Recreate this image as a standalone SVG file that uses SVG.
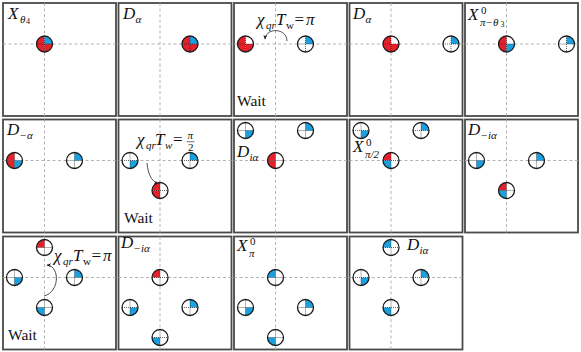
<svg xmlns="http://www.w3.org/2000/svg" xmlns:xlink="http://www.w3.org/1999/xlink" width="581" height="352" viewBox="0 0 581 352">
<style>
.panel{fill:#fff;stroke:#4a4a4a;stroke-width:1.8}
.cross{stroke:#aaaaaa;stroke-width:0.9;stroke-dasharray:3,2.5;fill:none}
.bg{fill:#fff}
.R{fill:#e4202a}
.B{fill:#1aa0de}
.dot{stroke:#222;stroke-width:0.7;stroke-dasharray:1,1;fill:none}
.rim{fill:none;stroke:#1a1a1a;stroke-width:1.3}
.m{font-family:"Liberation Serif","DejaVu Serif",serif;font-style:italic;font-size:17px;fill:#111}
.s{font-size:11px}
.t{font-size:8px;font-style:normal}
.u{font-style:normal}
.w{font-family:"Liberation Serif","DejaVu Serif",serif;font-size:15.5px;fill:#111}
.arc{fill:none;stroke:#222;stroke-width:0.8}
</style>
<defs>
<path id="tl" d="M0,0H-8A8,8 0 0 1 0,-8Z"/>
<path id="tr" d="M0,0V-8A8,8 0 0 1 8,0Z"/>
<path id="br" d="M0,0H8A8,8 0 0 1 0,8Z"/>
<path id="bl" d="M0,0V8A8,8 0 0 1 -8,0Z"/>
<circle id="bg" r="8" class="bg"/>
<g id="ring"><path class="dot" d="M-8,0H8M0,-8V8"/><circle r="8" class="rim"/></g>
<marker id="ah" viewBox="0 0 10 10" refX="8" refY="5" markerWidth="5" markerHeight="5" orient="auto-start-reverse" markerUnits="userSpaceOnUse">
<path d="M0,1 L9,5 L0,9 L2.5,5Z" fill="#222"/>
</marker>
</defs>

<!-- panels -->
<g id="panel-1-1"><rect class="panel" x="3" y="3" width="113" height="113"/><path class="cross" d="M3,44H116M44.5,3V116"/></g>
<g id="panel-1-2"><rect class="panel" x="118.5" y="3" width="113" height="113"/><path class="cross" d="M118.5,44H231.5M160,3V116"/></g>
<g id="panel-1-3"><rect class="panel" x="234" y="3" width="113" height="113"/><path class="cross" d="M234,44H347M275.5,3V116"/></g>
<g id="panel-1-4"><rect class="panel" x="349.5" y="3" width="113" height="113"/><path class="cross" d="M349.5,44H462.5M391,3V116"/></g>
<g id="panel-1-5"><rect class="panel" x="465" y="3" width="113" height="113"/><path class="cross" d="M465,44H578M506.5,3V116"/></g>

<g id="panel-2-1"><rect class="panel" x="3" y="119.5" width="113" height="113"/><path class="cross" d="M3,160.5H116M44.5,119.5V232.5"/></g>
<g id="panel-2-2"><rect class="panel" x="118.5" y="119.5" width="113" height="113"/><path class="cross" d="M118.5,160.5H231.5M160,119.5V232.5"/></g>
<g id="panel-2-3"><rect class="panel" x="234" y="119.5" width="113" height="113"/><path class="cross" d="M234,160.5H347M275.5,119.5V232.5"/></g>
<g id="panel-2-4"><rect class="panel" x="349.5" y="119.5" width="113" height="113"/><path class="cross" d="M349.5,160.5H462.5M391,119.5V232.5"/></g>
<g id="panel-2-5"><rect class="panel" x="465" y="119.5" width="113" height="113"/><path class="cross" d="M465,160.5H578M506.5,119.5V232.5"/></g>

<g id="panel-3-1"><rect class="panel" x="3" y="236.5" width="113" height="113"/><path class="cross" d="M3,277.5H116M44.5,236.5V349.5"/></g>
<g id="panel-3-2"><rect class="panel" x="118.5" y="236.5" width="113" height="113"/><path class="cross" d="M118.5,277.5H231.5M160,236.5V349.5"/></g>
<g id="panel-3-3"><rect class="panel" x="234" y="236.5" width="113" height="113"/><path class="cross" d="M234,277.5H347M275.5,236.5V349.5"/></g>
<g id="panel-3-4"><rect class="panel" x="349.5" y="236.5" width="113" height="113"/><path class="cross" d="M349.5,277.5H462.5M391,236.5V349.5"/></g>

<!-- connectors -->
<g id="connectors">
<path class="arc" marker-end="url(#ah)" d="M287,41 C287,28 266,27 265,39"/>
<path class="arc" marker-end="url(#ah)" d="M147,163 C148,175 152,181 158,184"/>
<path class="arc" marker-end="url(#ah)" d="M44,296 C60,292 60,266 47,265"/>
</g>

<!-- qubits -->
<g id="q-1-1-a" transform="translate(44.5,44)"><use href="#bg"/><use href="#tl" class="R"/><use href="#tr" class="B"/><use href="#bl" class="R"/><use href="#br" class="R"/><use href="#ring"/></g>
<g id="q-1-2-a" transform="translate(190,44)"><use href="#bg"/><use href="#tl" class="R"/><use href="#tr" class="B"/><use href="#bl" class="R"/><use href="#br" class="R"/><use href="#ring"/></g>
<g id="q-1-3-a" transform="translate(245.5,44)"><use href="#bg"/><use href="#tl" class="R"/><use href="#bl" class="R"/><use href="#br" class="R"/><use href="#ring"/></g>
<g id="q-1-3-b" transform="translate(305.5,44)"><use href="#bg"/><use href="#tr" class="B"/><use href="#ring"/></g>
<g id="q-1-4-a" transform="translate(391,44)"><use href="#bg"/><use href="#tl" class="R"/><use href="#bl" class="R"/><use href="#br" class="R"/><use href="#ring"/></g>
<g id="q-1-4-b" transform="translate(451,44)"><use href="#bg"/><use href="#tr" class="B"/><use href="#ring"/></g>
<g id="q-1-5-a" transform="translate(506.5,44)"><use href="#bg"/><use href="#tl" class="R"/><use href="#bl" class="R"/><use href="#br" class="B"/><use href="#ring"/></g>
<g id="q-1-5-b" transform="translate(566.5,44)"><use href="#bg"/><use href="#tr" class="B"/><use href="#ring"/></g>

<g id="q-2-1-a" transform="translate(14.5,160.5)"><use href="#bg"/><use href="#tl" class="R"/><use href="#bl" class="R"/><use href="#br" class="B"/><use href="#ring"/></g>
<g id="q-2-1-b" transform="translate(74.5,160.5)"><use href="#bg"/><use href="#tr" class="B"/><use href="#ring"/></g>
<g id="q-2-2-a" transform="translate(130,160.5)"><use href="#bg"/><use href="#br" class="B"/><use href="#ring"/></g>
<g id="q-2-2-b" transform="translate(190,160.5)"><use href="#bg"/><use href="#tr" class="B"/><use href="#ring"/></g>
<g id="q-2-2-c" transform="translate(160,190.5)"><use href="#bg"/><use href="#tl" class="R"/><use href="#bl" class="R"/><use href="#ring"/></g>
<g id="q-2-3-a" transform="translate(245.5,130.5)"><use href="#bg"/><use href="#br" class="B"/><use href="#ring"/></g>
<g id="q-2-3-b" transform="translate(305.5,130.5)"><use href="#bg"/><use href="#tr" class="B"/><use href="#ring"/></g>
<g id="q-2-3-c" transform="translate(275.5,160.5)"><use href="#bg"/><use href="#tl" class="R"/><use href="#bl" class="R"/><use href="#ring"/></g>
<g id="q-2-4-a" transform="translate(361,130.5)"><use href="#bg"/><use href="#br" class="B"/><use href="#ring"/></g>
<g id="q-2-4-b" transform="translate(421,130.5)"><use href="#bg"/><use href="#tr" class="B"/><use href="#ring"/></g>
<g id="q-2-4-c" transform="translate(391,160.5)"><use href="#bg"/><use href="#tl" class="R"/><use href="#bl" class="B"/><use href="#ring"/></g>
<g id="q-2-5-a" transform="translate(476.5,160.5)"><use href="#bg"/><use href="#br" class="B"/><use href="#ring"/></g>
<g id="q-2-5-b" transform="translate(536.5,160.5)"><use href="#bg"/><use href="#tr" class="B"/><use href="#ring"/></g>
<g id="q-2-5-c" transform="translate(506.5,190.5)"><use href="#bg"/><use href="#tl" class="R"/><use href="#bl" class="B"/><use href="#ring"/></g>

<g id="q-3-1-a" transform="translate(44.5,247.5)"><use href="#bg"/><use href="#tl" class="R"/><use href="#ring"/></g>
<g id="q-3-1-b" transform="translate(14.5,277.5)"><use href="#bg"/><use href="#br" class="B"/><use href="#ring"/></g>
<g id="q-3-1-c" transform="translate(74.5,277.5)"><use href="#bg"/><use href="#tr" class="B"/><use href="#ring"/></g>
<g id="q-3-1-d" transform="translate(44.5,307.5)"><use href="#bg"/><use href="#bl" class="B"/><use href="#ring"/></g>
<g id="q-3-2-a" transform="translate(160,277.5)"><use href="#bg"/><use href="#tl" class="R"/><use href="#ring"/></g>
<g id="q-3-2-b" transform="translate(130,307.5)"><use href="#bg"/><use href="#br" class="B"/><use href="#ring"/></g>
<g id="q-3-2-c" transform="translate(190,307.5)"><use href="#bg"/><use href="#tr" class="B"/><use href="#ring"/></g>
<g id="q-3-2-d" transform="translate(160,337.5)"><use href="#bg"/><use href="#bl" class="B"/><use href="#ring"/></g>
<g id="q-3-3-a" transform="translate(275.5,277.5)"><use href="#bg"/><use href="#tl" class="B"/><use href="#ring"/></g>
<g id="q-3-3-b" transform="translate(245.5,307.5)"><use href="#bg"/><use href="#br" class="B"/><use href="#ring"/></g>
<g id="q-3-3-c" transform="translate(305.5,307.5)"><use href="#bg"/><use href="#tr" class="B"/><use href="#ring"/></g>
<g id="q-3-3-d" transform="translate(275.5,337.5)"><use href="#bg"/><use href="#bl" class="B"/><use href="#ring"/></g>
<g id="q-3-4-a" transform="translate(391,247.5)"><use href="#bg"/><use href="#tl" class="B"/><use href="#ring"/></g>
<g id="q-3-4-b" transform="translate(361,277.5)"><use href="#bg"/><use href="#br" class="B"/><use href="#ring"/></g>
<g id="q-3-4-c" transform="translate(421,277.5)"><use href="#bg"/><use href="#tr" class="B"/><use href="#ring"/></g>
<g id="q-3-4-d" transform="translate(391,307.5)"><use href="#bg"/><use href="#bl" class="B"/><use href="#ring"/></g>

<!-- labels -->
<g id="labels">
<text class="m"><tspan x="8" y="19">X</tspan><tspan class="s" x="20" y="22.5">θ</tspan><tspan class="t" x="26" y="24">4</tspan></text>
<text class="m"><tspan x="123" y="19">D</tspan><tspan class="s" x="135.5" y="22.5">α</tspan></text>
<text class="m"><tspan x="257" y="25">χ</tspan><tspan class="s" x="266" y="28.5">qr</tspan><tspan x="276" y="25">T</tspan><tspan class="s u" x="286" y="28.5">w</tspan><tspan class="u" x="294.5" y="25">=</tspan><tspan x="306" y="25">π</tspan></text>
<text class="w" x="237" y="106">Wait</text>
<text class="m"><tspan x="353" y="19">D</tspan><tspan class="s" x="365.5" y="22.5">α</tspan></text>
<text class="m"><tspan x="468" y="20">X</tspan><tspan class="s u" x="481" y="14">0</tspan><tspan class="s" x="480" y="25.5">π−θ</tspan><tspan class="t" x="500.5" y="27">3</tspan></text>

<text class="m"><tspan x="7" y="135">D</tspan><tspan class="s" x="19.5" y="138.5">−α</tspan></text>
<text class="m"><tspan x="137" y="145">χ</tspan><tspan class="s" x="146" y="148.5">qr</tspan><tspan x="155" y="145">T</tspan><tspan class="s" x="165" y="148.5">w</tspan><tspan class="u" x="173" y="145">=</tspan><tspan class="s" x="187.5" y="139">π</tspan><tspan class="s u" x="188" y="150.5">2</tspan></text>
<path d="M186.5,141.7H194.5" stroke="#111" stroke-width="0.6"/>
<text class="w" x="124" y="223">Wait</text>
<text class="m"><tspan x="237" y="157">D</tspan><tspan class="s" x="249.5" y="160.5">iα</tspan></text>
<text class="m"><tspan x="353" y="152">X</tspan><tspan class="s u" x="366" y="146">0</tspan><tspan class="s" x="365" y="157.5">π/2</tspan></text>
<text class="m"><tspan x="468" y="135">D</tspan><tspan class="s" x="480.5" y="138.5">−iα</tspan></text>

<text class="m"><tspan x="54" y="261">χ</tspan><tspan class="s" x="63" y="264.5">qr</tspan><tspan x="73" y="261">T</tspan><tspan class="s u" x="83" y="264.5">w</tspan><tspan class="u" x="91.5" y="261">=</tspan><tspan x="103" y="261">π</tspan></text>
<text class="w" x="8" y="340">Wait</text>
<text class="m"><tspan x="121" y="248">D</tspan><tspan class="s" x="133.5" y="251.5">−iα</tspan></text>
<text class="m"><tspan x="237" y="251">X</tspan><tspan class="s u" x="250" y="245">0</tspan><tspan class="s" x="249" y="256.5">π</tspan></text>
<text class="m"><tspan x="407" y="250">D</tspan><tspan class="s" x="419.5" y="253.5">iα</tspan></text>
</g>
</svg>
